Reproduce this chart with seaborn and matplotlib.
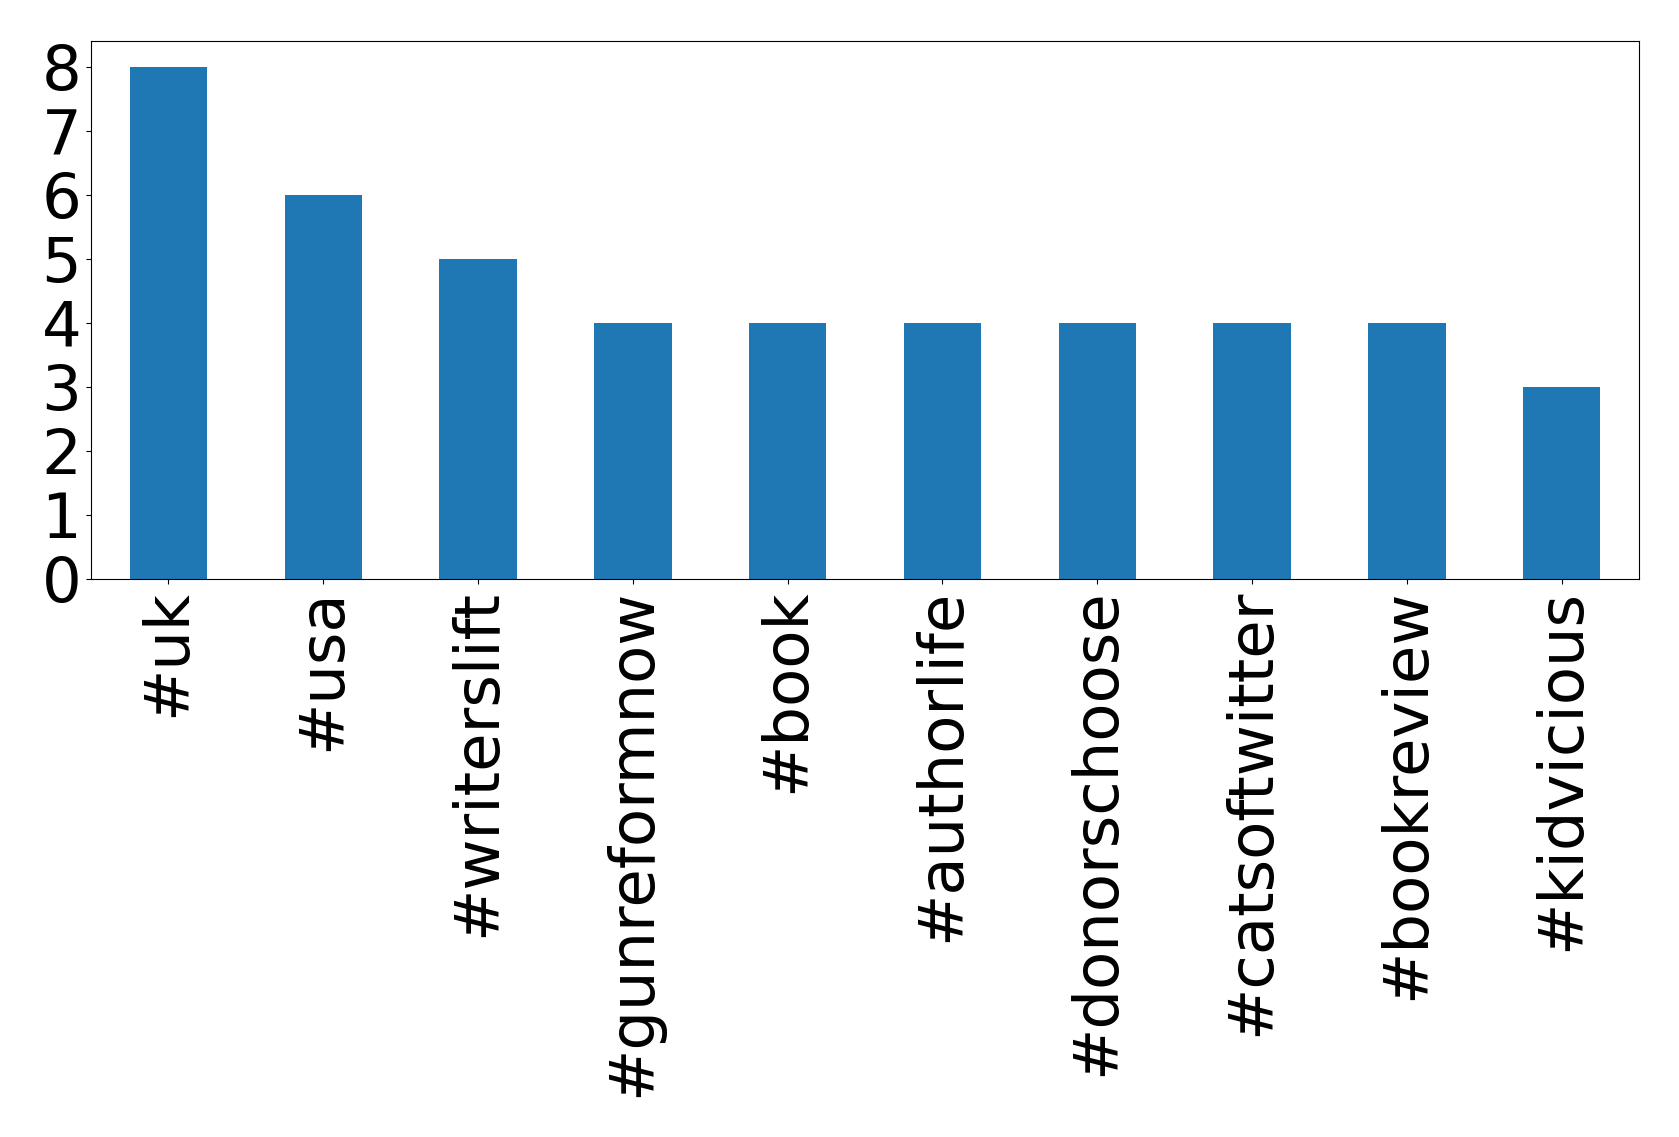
"""
plot.py - top hashtags bar chart
"""

import pandas as pd
import matplotlib
matplotlib.use('Agg')
import matplotlib.pyplot as plt
import seaborn as sns

hashtags = ['#uk', '#usa', '#writerslift', '#gunreformnow', '#book',
            '#authorlife', '#donorschoose', '#catsoftwitter', '#bookreview',
            '#kidvicious']
counts = [8, 6, 5, 4, 4, 4, 4, 4, 4, 3]

df = pd.DataFrame({'hashtag': hashtags, 'count': counts})

fig, ax = plt.subplots(figsize=(16.79, 11.37), dpi=100)
fig.subplots_adjust(left=0.0542, right=0.9762, top=0.964, bottom=0.4908)

sns.barplot(data=df, x='hashtag', y='count', color='#1f77b4',
            saturation=1, width=0.5, ax=ax)
ax.set_xlim(-0.5, len(hashtags) - 0.5)
ax.set_ylim(0, 8.4)
ax.set_yticks(range(0, 9))
ax.set_xlabel('')
ax.set_ylabel('')
ax.tick_params(axis='both', labelsize=45)
ax.tick_params(axis='x', labelrotation=90)

plt.savefig('out.png', dpi=100)
